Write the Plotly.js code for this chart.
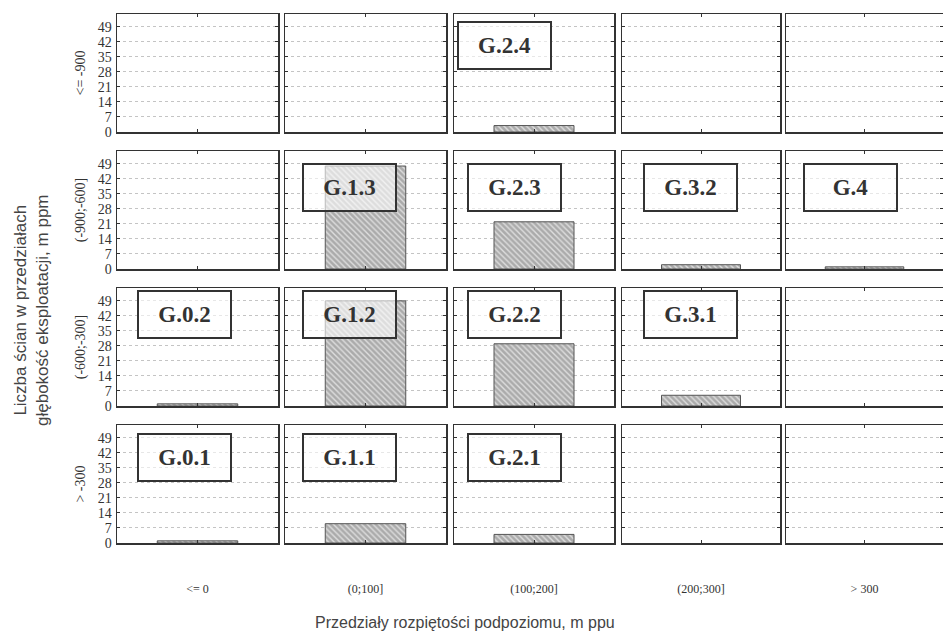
<!DOCTYPE html>
<html>
<head>
<meta charset="utf-8">
<script src="https://cdn.plot.ly/plotly-3.0.1.min.js"></script>
<style>html,body{margin:0;padding:0;background:#fff;overflow:hidden}</style>
</head>
<body>
<div id="chart" style="width:943px;height:632px"></div>
<script>
// ---- data ----
const spanCategories = ["<= 0", "(0;100]", "(100;200]", "(200;300]", "> 300"];
const depthCategories = ["<= -900", "(-900;-600]", "(-600;-300]", "> -300"];
const countsDepthLe900 = [0, 0, 3, 0, 0];
const countsDepth900to600 = [0, 48, 22, 2, 1];
const countsDepth600to300 = [1, 49, 29, 5, 0];
const countsDepthGt300 = [1, 9, 4, 0, 0];
const groupLabelsLe900 = ["", "", "G.2.4", "", ""];
const groupLabels900to600 = ["", "G.1.3", "G.2.3", "G.3.2", "G.4"];
const groupLabels600to300 = ["G.0.2", "G.1.2", "G.2.2", "G.3.1", ""];
const groupLabelsGt300 = ["G.0.1", "G.1.1", "G.2.1", "", ""];
const yTickValues = [0, 7, 14, 21, 28, 35, 42, 49];
const yTitle = "Liczba ścian w przedziałach<br>głębokość eksploatacji, m ppm";
const xTitle = "Przedziały rozpiętości podpoziomu, m ppu";

const counts = [countsDepthLe900, countsDepth900to600, countsDepth600to300, countsDepthGt300];
const labels = [groupLabelsLe900, groupLabels900to600, groupLabels600to300, groupLabelsGt300];

// ---- layout geometry (pixels) ----
const W = 943, H = 632;
const colLeft = [117, 285, 454, 622, 786];
const colRight = [278, 446, 614, 780, 946];
const rowTop = [14, 151, 288, 425];
const rowH = 118;
const boxLeft = [[137,302,457,643,803],[137,302,467,643,803],[137,302,467,643,803],[137,302,467,643,803]];
const boxTop = [[21,21,21,21,21],[163,163,163,163,163],[290,290,290,290,290],[433,433,433,433,433]];

const ink = '#333';
const serif = 'Liberation Serif';
const sans = 'Liberation Sans';

const traces = [];
const layout = {
  width: W, height: H,
  margin: {l: 0, r: 0, t: 0, b: 0},
  paper_bgcolor: '#fff', plot_bgcolor: '#fff',
  showlegend: false,
  annotations: []
};

for (let r = 0; r < 4; r++) {
  for (let c = 0; c < 5; c++) {
    const i = r * 5 + c + 1;
    const xa = 'x' + (i === 1 ? '' : i);
    const ya = 'y' + (i === 1 ? '' : i);
    const xk = 'xaxis' + (i === 1 ? '' : i);
    const yk = 'yaxis' + (i === 1 ? '' : i);
    const x0 = colLeft[c] / W;
    const x1 = Math.min(colRight[c], W) / W;
    const y1 = 1 - rowTop[r] / H;
    const y0 = 1 - (rowTop[r] + rowH) / H;
    const v = counts[r][c];

    traces.push({
      type: 'bar',
      x: [spanCategories[c]],
      y: [v],
      xaxis: xa, yaxis: ya,
      width: 0.5,
      hoverinfo: 'x+y',
      marker: {
        color: '#a9a9a9',
        line: {color: '#555', width: v > 0 ? 1 : 0},
        pattern: {shape: '\\', bgcolor: '#ababab', fgcolor: '#dedede', size: 4, solidity: 0.35}
      }
    });

    layout[xk] = {
      domain: [x0, x1],
      anchor: ya,
      type: 'category',
      categoryarray: [spanCategories[c]],
      range: [-0.5, 0.5],
      showline: true, linecolor: ink, linewidth: 1.5, mirror: 'ticks',
      ticks: 'inside', ticklen: 3, tickcolor: ink, tickwidth: 1,
      showgrid: false, zeroline: false,
      fixedrange: true,
      showticklabels: r === 3,
      ticklabelstandoff: 34,
      tickfont: {family: serif, size: 12, color: ink}
    };
    layout[yk] = {
      domain: [y0, y1],
      anchor: xa,
      range: [0, 55],
      tickvals: yTickValues,
      showline: true, linecolor: ink, linewidth: 1.5, mirror: 'ticks',
      ticks: 'inside', ticklen: 3, tickcolor: ink, tickwidth: 1,
      showgrid: true, gridcolor: '#c4c4c4', griddash: 'dot', gridwidth: 1,
      zeroline: false,
      fixedrange: true,
      showticklabels: c === 0,
      ticklabelstandoff: 1,
      tickfont: {family: serif, size: 14, color: ink},
      title: c === 0 ? {text: depthCategories[r], font: {family: serif, size: 14, color: ink}, standoff: 9} : {text: ''}
    };

    const lab = labels[r][c];
    if (lab) {
      layout.annotations.push({
        xref: 'paper', yref: 'paper',
        x: boxLeft[r][c] / W,
        y: 1 - boxTop[r][c] / H,
        xanchor: 'left', yanchor: 'top',
        text: lab, showarrow: false,
        width: 91, height: 45,
        bgcolor: 'rgba(255,255,255,0.6)',
        bordercolor: ink, borderwidth: 2, borderpad: 0,
        font: {family: serif, size: 23, color: ink, weight: 'bold'}
      });
    }
  }
}

layout.annotations.push({
  xref: 'paper', yref: 'paper',
  x: 32 / W, y: 1 - 310 / H,
  xanchor: 'center', yanchor: 'middle',
  textangle: -90, showarrow: false,
  text: yTitle,
  font: {family: sans, size: 17, color: '#444'}
});
layout.annotations.push({
  xref: 'paper', yref: 'paper',
  x: 465 / W, y: 1 - 622 / H,
  xanchor: 'center', yanchor: 'middle',
  showarrow: false,
  text: xTitle,
  font: {family: sans, size: 16, color: '#444'}
});

Plotly.newPlot('chart', traces, layout, {displayModeBar: false, staticPlot: true});
</script>
</body>
</html>
